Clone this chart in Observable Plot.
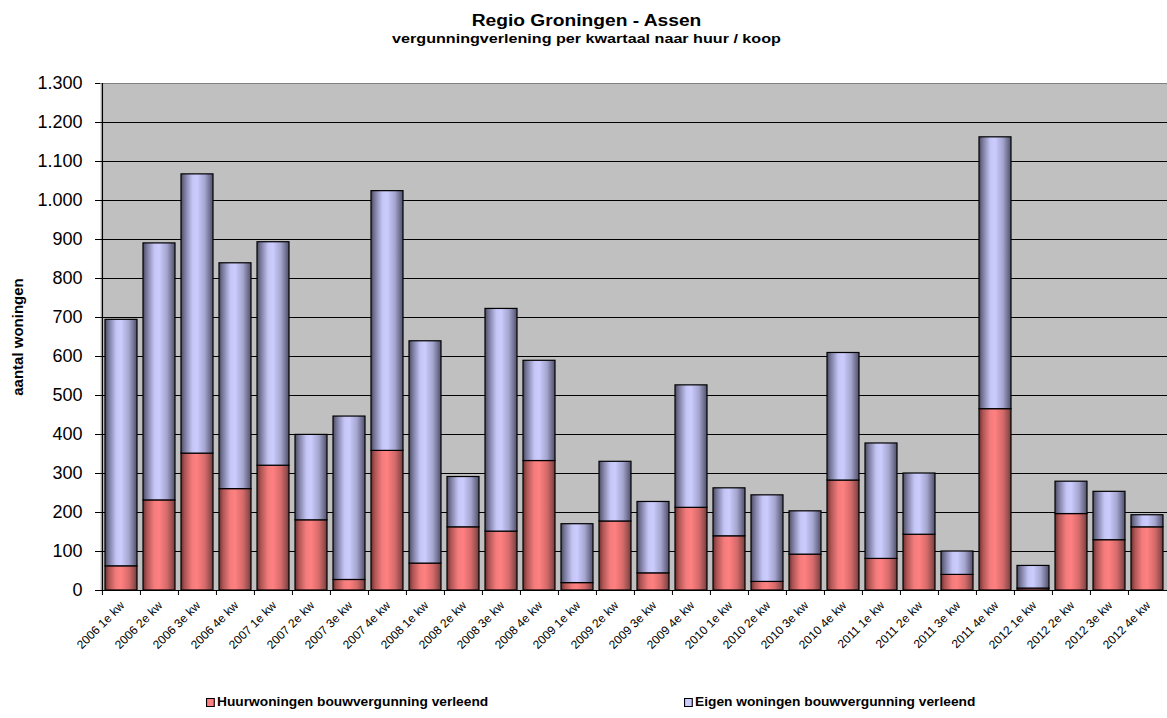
<!DOCTYPE html>
<html><head><meta charset="utf-8">
<script src="https://cdn.jsdelivr.net/npm/d3@7"></script>
<script src="https://cdn.jsdelivr.net/npm/@observablehq/plot@0.6"></script>
<style>
body{margin:0;background:#fff;font-family:"Liberation Sans",Arial,sans-serif;}
#wrap{position:relative;width:1167px;height:718px;overflow:hidden;background:#fff;}
.t{position:absolute;left:3px;width:1167px;text-align:center;font-weight:bold;color:#000;white-space:nowrap;transform-origin:center;}
#title{top:13px;font-size:16px;line-height:16px;transform:scaleX(1.2);}
#sub{top:32px;font-size:13px;line-height:13px;transform:scaleX(1.24);}
#chart{position:absolute;left:0;top:55px;}
.leg{position:absolute;top:696px;font-size:12.5px;line-height:13px;font-weight:bold;color:#000;white-space:nowrap;display:flex;align-items:center;transform:scaleX(1.1);transform-origin:left center;}
.sw{width:6px;height:7px;border:1px solid #000;margin-right:2px;}
</style>
</head><body>
<div id="wrap">
  <div class="t" id="title"></div>
  <div class="t" id="sub"></div>
  <div id="chart"></div>
  <div class="leg" id="leg1" style="left:206px"><div class="sw" style="background:#ff8080"></div><span></span></div>
  <div class="leg" id="leg2" style="left:684px"><div class="sw" style="background:#ccccff"></div><span></span></div>
</div>
<script>
const title = "Regio Groningen - Assen";
const subtitle = "vergunningverlening per kwartaal naar huur / koop";
const yLabel = "aantal woningen";
const serieHuur = "Huurwoningen bouwvergunning verleend";
const serieEigen = "Eigen woningen bouwvergunning verleend";

const quarters = [
  "2006 1e kw","2006 2e kw","2006 3e kw","2006 4e kw",
  "2007 1e kw","2007 2e kw","2007 3e kw","2007 4e kw",
  "2008 1e kw","2008 2e kw","2008 3e kw","2008 4e kw",
  "2009 1e kw","2009 2e kw","2009 3e kw","2009 4e kw",
  "2010 1e kw","2010 2e kw","2010 3e kw","2010 4e kw",
  "2011 1e kw","2011 2e kw","2011 3e kw","2011 4e kw",
  "2012 1e kw","2012 2e kw","2012 3e kw","2012 4e kw"
];
const huur  = [62,231,351,260, 320,180,27,358, 69,162,151,332, 19,177,44,212, 139,22,92,282, 81,143,40,465, 5,196,129,162];
const eigen = [632,659,716,579, 573,219,419,666, 570,129,571,257, 151,153,183,314, 123,222,111,327, 296,157,60,697, 58,83,124,31];
const yTicks = [0,100,200,300,400,500,600,700,800,900,1000,1100,1200,1300];

document.getElementById("title").textContent = title;
document.getElementById("sub").textContent = subtitle;
document.querySelector("#leg1 span").textContent = serieHuur;
document.querySelector("#leg2 span").textContent = serieEigen;

const rows = [];
quarters.forEach((q, i) => rows.push({q, s: serieHuur, v: huur[i]}));
quarters.forEach((q, i) => rows.push({q, s: serieEigen, v: eigen[i]}));

const W = 1167, H = 620, mL = 100, mR = 0, mT = 28, mB = 85;
const step = (W - mL - mR) / quarters.length;
const nl = d3.formatLocale({decimal: ",", thousands: ".", grouping: [3], currency: ["€", ""]}).format(",");
const gridTicks = yTicks.filter(d => d > 0 && d < 1300);

const svg = Plot.plot({
  width: W, height: H,
  marginLeft: mL, marginRight: mR, marginTop: mT, marginBottom: mB,
  style: {fontFamily: "'Liberation Sans', Arial, sans-serif", color: "#000", background: "transparent", overflow: "visible"},
  x: {domain: quarters, paddingInner: 0.16, paddingOuter: 0.08, label: null},
  y: {domain: [0, 1300], label: null},
  color: {domain: [serieHuur, serieEigen], range: ["url(#gR)", "url(#gB)"]},
  marks: [
    Plot.frame({fill: "#c0c0c0"}),
    Plot.ruleY(gridTicks, {stroke: "#000", strokeWidth: 1.2}),
    Plot.ruleY([1300], {stroke: "#808080", strokeWidth: 1}),
    Plot.barY(rows, {x: "q", y: "v", fill: "s", stroke: "#000", strokeWidth: 1.2}),
    Plot.ruleY([0], {stroke: "#000", strokeWidth: 1.2}),
    Plot.ruleX([quarters[0]], {dx: -step / 2, stroke: "#000", strokeWidth: 1.2}),
    Plot.axisY({ticks: yTicks, tickSize: 5, tickPadding: 13, fontSize: 18, tickFormat: nl, stroke: "#000"}),
    Plot.axisX({tickSize: 5, dx: -step / 2, tickFormat: () => "", stroke: "#000"}),
    Plot.axisX({tickSize: 0, tickPadding: 13, tickRotate: -45, fontSize: 12, dx: 1}),
    Plot.text([yLabel], {frameAnchor: "left", textAnchor: "middle", rotate: -90, dx: -82, fontWeight: "bold", fontSize: 15})
  ]
});

const defs = d3.select(svg).insert("defs", ":first-child");
function grad(id, stops) {
  const g = defs.append("linearGradient").attr("id", id).attr("x1", "0").attr("y1", "0").attr("x2", "1").attr("y2", "0");
  stops.forEach(([o, c]) => g.append("stop").attr("offset", o).attr("stop-color", c));
}
grad("gB", [[0, "#4a4a62"], [0.12, "#7a7a9e"], [0.35, "#c4c4f4"], [0.5, "#ccccff"], [0.75, "#a4a4ce"], [0.92, "#6a6a8a"], [1, "#50506a"]]);
grad("gR", [[0, "#6a3030"], [0.12, "#ae5454"], [0.35, "#f47c7c"], [0.5, "#ff8080"], [0.75, "#d66a6a"], [0.92, "#944e4e"], [1, "#703636"]]);

document.getElementById("chart").appendChild(svg);
</script>
</body></html>
